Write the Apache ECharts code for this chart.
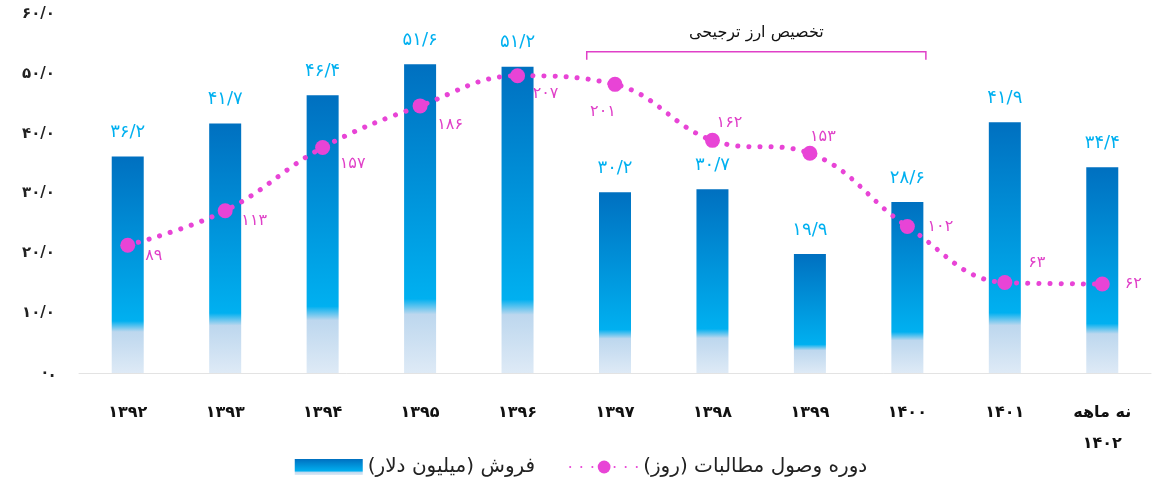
<!DOCTYPE html>
<html>
<head>
<meta charset="utf-8">
<script src="https://cdn.jsdelivr.net/npm/echarts@6/dist/echarts.min.js"></script>
<style>
html,body{margin:0;padding:0;background:#fff;}
#c{width:1162px;height:488px;}
</style>
</head>
<body>
<div id="c"></div>
<script>
const categories = ['۱۳۹۲','۱۳۹۳','۱۳۹۴','۱۳۹۵','۱۳۹۶','۱۳۹۷','۱۳۹۸','۱۳۹۹','۱۴۰۰','۱۴۰۱','نه ماهه\n۱۴۰۲'];
const sales = [36.2, 41.7, 46.4, 51.6, 51.2, 30.2, 30.7, 19.9, 28.6, 41.9, 34.4];
const collectionDays = [89, 113, 157, 186, 207, 201, 162, 153, 102, 63, 62];
const yTickLabels = ['۰.', '۱۰/۰', '۲۰/۰', '۳۰/۰', '۴۰/۰', '۵۰/۰', '۶۰/۰'];
const salesName = 'فروش (میلیون دلار)';
const daysName = 'دوره وصول مطالبات (روز)';
const noteText = 'تخصیص ارز ترجیحی';
// label offsets for the day labels (style only)
const dayLabelOffsets = [[26,11],[29,10],[30,16],[30,19],[28,18],[-12,27],[17,-18],[13,-16],[33,0],[32,-20],[31,0]];

function fa(v){
  return String(v).replace(/[0-9]/g, d => '۰۱۲۳۴۵۶۷۸۹'[+d]).replace('.', '/');
}
const FONT = 'DejaVu Sans';
const PINK = '#E844D6';

const barGrad = new echarts.graphic.LinearGradient(0,0,0,1,[
  {offset:0, color:'#0070C0'},
  {offset:0.76, color:'#00B0F0'},
  {offset:0.81, color:'#BDD7EE'},
  {offset:1, color:'#DEEAF6'}
]);

const chart = echarts.init(document.getElementById('c'));
chart.setOption({
  animation:false,
  textStyle:{fontFamily:FONT},
  grid:{left:79, right:11, top:14, bottom:115},
  legend:{
    bottom:6, left:'center',
    itemGap:34, itemWidth:68, itemHeight:16,
    textStyle:{fontSize:20, color:'#222', fontFamily:FONT},
    data:[{name:salesName, icon:'rect'}, {name:daysName}]
  },
  xAxis:{
    type:'category', data:categories,
    axisLine:{show:true, lineStyle:{color:'#E3E3E3', width:1}},
    axisTick:{show:false},
    axisLabel:{color:'#111', fontSize:16, fontWeight:'bold', margin:24, lineHeight:31, interval:0, fontFamily:FONT}
  },
  yAxis:[{
    type:'value', min:0, max:60, interval:10,
    splitLine:{show:false}, axisLine:{show:false}, axisTick:{show:false},
    axisLabel:{color:'#222', fontSize:15, fontWeight:'bold', margin:24, fontFamily:FONT,
      formatter:(v)=> yTickLabels[Math.round(v/10)]}
  },{
    type:'value', min:0, max:250, show:false, splitLine:{show:false}
  }],
  series:[{
    name:salesName, type:'bar', barWidth:32,
    data:sales,
    itemStyle:{color:barGrad},
    label:{show:true, position:'top', distance:15, color:'#00B0F0', fontSize:18, fontFamily:FONT,
      formatter:(p)=>fa(p.value)}
  },{
    name:daysName, type:'line', yAxisIndex:1, smooth:0.4,
    data:collectionDays.map((v,i)=>({value:v, label:{offset:dayLabelOffsets[i]}})),
    symbol:'circle', symbolSize:15,
    itemStyle:{color:PINK},
    lineStyle:{color:PINK, width:5, type:[0.1,11], cap:'round'},
    label:{show:true, position:'inside', color:'#E040C8', fontSize:16, fontFamily:FONT,
      textBorderWidth:0, formatter:(p)=>fa(p.value)},
    zlevel:1, z:5
  }]
});

function drawNote(){
  const x5 = chart.convertToPixel({xAxisIndex:0}, 5);
  const x6 = chart.convertToPixel({xAxisIndex:0}, 6);
  const x8 = chart.convertToPixel({xAxisIndex:0}, 8);
  const step = x6 - x5;
  const left = x5 - 0.29*step;
  const right = x8 + 0.19*step;
  const yLine = chart.convertToPixel({yAxisIndex:0}, 53.7);
  chart.setOption({graphic:[
    {type:'polyline', shape:{points:[[left,yLine+8],[left,yLine],[right,yLine],[right,yLine+8]]},
      style:{stroke:'#E040C8', lineWidth:1.5, fill:null}},
    {type:'text', x:(left+right)/2, y:yLine-19,
      style:{text:noteText, fill:'#111', font:'16px "DejaVu Sans"', align:'center', verticalAlign:'middle'}}
  ]});
}
drawNote();
</script>
</body>
</html>
